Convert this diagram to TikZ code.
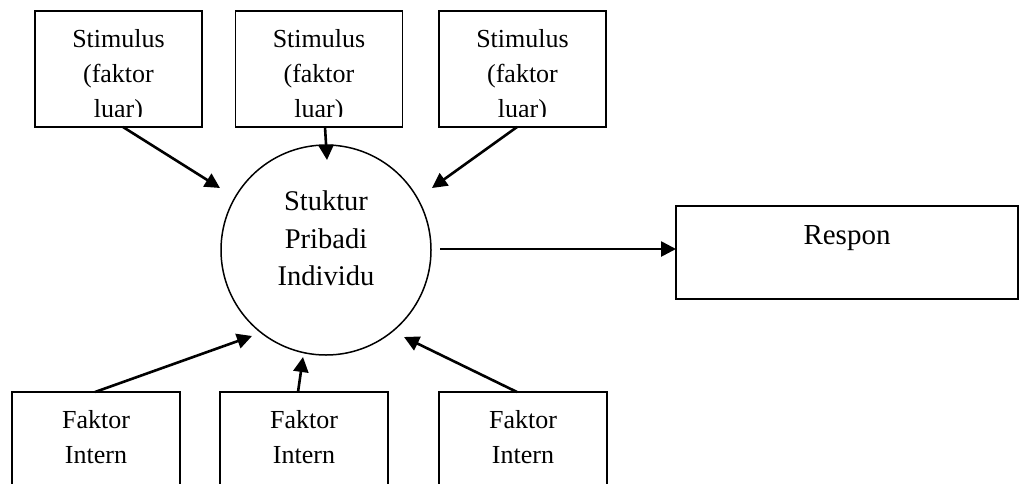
\documentclass[tikz,border=0pt]{standalone}
\usepackage{fontspec}
\setmainfont{Liberation Serif}
\usetikzlibrary{arrows.meta,calc}
\begin{document}
\begin{tikzpicture}[x=0.5pt,y=-0.5pt,
  box/.style={draw, line width=0.7pt, rectangle, inner sep=0pt, outer sep=0pt},
  topbox/.style={box, minimum width=83.5pt, minimum height=58pt},
  botbox/.style={box, minimum width=84pt, minimum height=64pt},
  boxtext/.style={anchor=north, inner sep=0pt, align=center, font=\fontsize{13pt}{17.5pt}\selectfont},
  ctext/.style={anchor=north, inner sep=0pt, align=center, font=\fontsize{14.25pt}{18.75pt}\selectfont},
  arr/.style={line width=1.3pt, -{Triangle[length=7.5pt,width=7.5pt]}},
]
\useasboundingbox (0,0) rectangle (1020,483);
\clip (0,0) rectangle (1020,483);

% top stimulus boxes
\node[topbox] (s1) at (118.5,69) {};
\node[topbox] (s2) at (319,69) {};
\node[topbox] (s3) at (522.5,69) {};
\foreach \b in {s1,s2,s3}{
  \begin{scope}
    \clip (\b.north west) rectangle ($(\b.south east)+(0,-11)$);
    \node[boxtext] (\b t) at ($(\b.north)+(0,18)$) {Stimulus\\(faktor\\luar)};
  \end{scope}
}

% bottom faktor intern boxes
\node[botbox] (f1) at (96,456) {};
\node[botbox] (f2) at (304,456) {};
\node[botbox] (f3) at (523,456) {};
\foreach \b in {f1,f2,f3}{
  \node[boxtext] (\b t) at ($(\b.north)+(0,18)$) {Faktor\\Intern};
}

% central circle
\node[draw, circle, line width=0.75pt, minimum size=105pt, inner sep=0pt, outer sep=0pt] (c) at (326,250) {};
\node[ctext] (ct) at ($(c.center)+(0,-59.5)$) {Stuktur\\Pribadi\\Individu};

% respon box
\node[box, minimum width=171pt, minimum height=46.5pt, font=\fontsize{14.5pt}{17pt}\selectfont, text height=10pt, text depth=18.5pt] (r) at (847,252.5) {Respon};

% connectors
\draw[arr] ($(s1.south)+(4.5,0)$) -- ($(c.center)+(-106,-62)$);
\draw[arr] ($(s2.south)+(6,0)$) -- ($(c.center)+(1,-90)$);
\draw[arr] ($(s3.south)+(-5.5,0)$) -- ($(c.center)+(106,-62)$);
\draw[arr] ($(c.center)+(114,-1)$) -- ($(r.west)+(0,-3.5)$);
\draw[arr] ($(f1.north)+(-1,0)$) -- ($(c.center)+(-74,86)$);
\draw[arr] ($(f2.north)+(-6,0)$) -- ($(c.center)+(-23,107)$);
\draw[arr] ($(f3.north)+(-6,0)$) -- ($(c.center)+(78,87)$);
\end{tikzpicture}
\end{document}
